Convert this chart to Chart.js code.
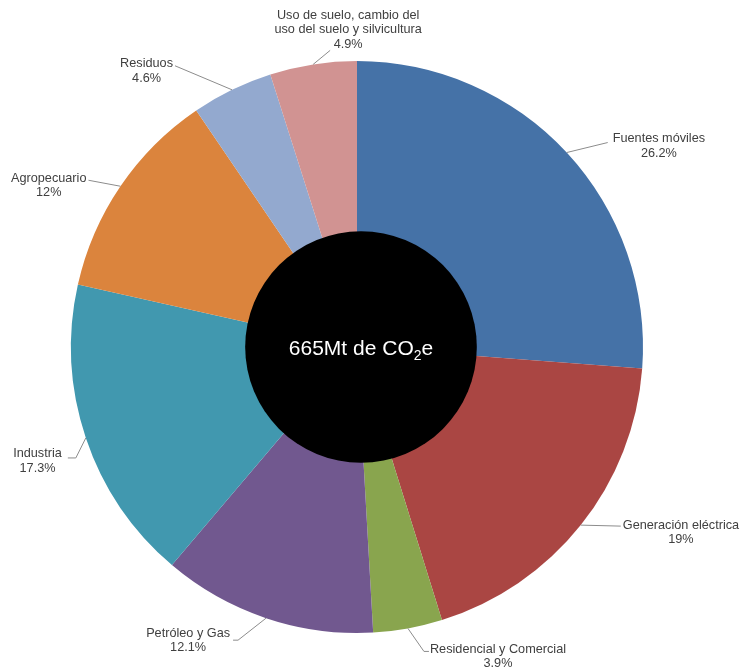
<!DOCTYPE html>
<html>
<head>
<meta charset="utf-8">
<script src="https://cdn.jsdelivr.net/npm/chart.js@4"></script>
<style>
  html, body { margin: 0; padding: 0; background: #fff; }
</style>
</head>
<body>
<canvas id="chart-body" width="743" height="672"></canvas>
<script>
const categories = [
    'Fuentes móviles',
    'Generación eléctrica',
    'Residencial y Comercial',
    'Petróleo y Gas',
    'Industria',
    'Agropecuario',
    'Residuos',
    'Uso de suelo, cambio del uso del suelo y silvicultura'
];
const shares = [26.2, 19, 3.9, 12.1, 17.3, 12, 4.6, 4.9];
const sliceColors = ['#4572A7', '#AA4643', '#89A54E', '#71588F', '#4198AF', '#DB843D', '#93A9CF', '#D19392'];
const centerMain = '665Mt de CO';
const centerSub = '2';
const centerTail = 'e';

// leader line + label placement, relative to the middle of each slice's outer edge
const labelLayout = [
    { path: [[41, -10]], align: 'left', dx: 46, dy: -14 },
    { path: [[40, 1]], align: 'left', dx: 42, dy: 0 },
    { path: [[16, 23], [21, 23]], align: 'left', dx: 22, dy: 21 },
    { path: [[-28, 22], [-33, 22]], align: 'right', dx: -36, dy: 15 },
    { path: [[-10, 20], [-18, 20]], align: 'right', dx: -24, dy: 16 },
    { path: [[-32, -6]], align: 'right', dx: -34, dy: -8 },
    { path: [[-57, -24]], align: 'right', dx: -59, dy: -26 },
    { path: [[17, -14]], align: 'center', dx: 35, dy: -49 }
];

const labelFont = '12.7px "Liberation Sans", Arial, sans-serif';
const lineHeight = 14.5;
// black disc sits on top of the pie, a little right of its centre
const discRatio = 0.405;
const discShift = 4;

function wrapText(ctx, text, maxWidth) {
    const words = text.split(' ');
    const lines = [];
    let current = '';
    words.forEach(w => {
        const test = current ? current + ' ' + w : w;
        if (current && ctx.measureText(test).width > maxWidth) {
            lines.push(current);
            current = w;
        } else {
            current = test;
        }
    });
    if (current) lines.push(current);
    return lines;
}

const centerPlugin = {
    id: 'centerDisc',
    afterDatasetsDraw(chart) {
        const arc = chart.getDatasetMeta(0).data[0];
        const p = arc.getProps(['x', 'y', 'outerRadius']);
        const ctx = chart.ctx;
        const dx = p.x + discShift;
        ctx.save();
        ctx.beginPath();
        ctx.arc(dx, p.y, p.outerRadius * discRatio, 0, Math.PI * 2);
        ctx.fillStyle = '#000';
        ctx.fill();

        const mainFont = '21px "Liberation Sans", Arial, sans-serif';
        const subFont = '14px "Liberation Sans", Arial, sans-serif';
        ctx.font = mainFont;
        const w1 = ctx.measureText(centerMain).width;
        const w3 = ctx.measureText(centerTail).width;
        ctx.font = subFont;
        const w2 = ctx.measureText(centerSub).width;
        let x = dx - (w1 + w2 + w3) / 2;
        const base = p.y + 8;
        ctx.fillStyle = '#fff';
        ctx.textBaseline = 'alphabetic';
        ctx.textAlign = 'left';
        ctx.font = mainFont;
        ctx.fillText(centerMain, x, base);
        x += w1;
        ctx.font = subFont;
        ctx.fillText(centerSub, x, base + 5);
        x += w2;
        ctx.font = mainFont;
        ctx.fillText(centerTail, x, base);
        ctx.restore();
    }
};

const labelPlugin = {
    id: 'sliceLabels',
    afterDraw(chart) {
        const ctx = chart.ctx;
        const values = chart.data.datasets[0].data;
        ctx.save();
        ctx.font = labelFont;
        chart.getDatasetMeta(0).data.forEach((arc, i) => {
            const p = arc.getProps(['x', 'y', 'startAngle', 'endAngle', 'outerRadius']);
            const mid = (p.startAngle + p.endAngle) / 2;
            const sx = p.x + Math.cos(mid) * p.outerRadius;
            const sy = p.y + Math.sin(mid) * p.outerRadius;
            const lay = labelLayout[i];

            ctx.beginPath();
            ctx.moveTo(sx, sy);
            lay.path.forEach(([dx, dy]) => ctx.lineTo(sx + dx, sy + dy));
            ctx.strokeStyle = '#8c8c8c';
            ctx.lineWidth = 1;
            ctx.stroke();

            const lines = wrapText(ctx, chart.data.labels[i], 163).concat(values[i] + '%');
            const blockW = Math.max(...lines.map(l => ctx.measureText(l).width));
            let cx = sx + lay.dx;
            if (lay.align === 'left') cx += blockW / 2;
            if (lay.align === 'right') cx -= blockW / 2;
            ctx.textAlign = 'center';
            ctx.textBaseline = 'middle';
            ctx.fillStyle = '#404040';
            lines.forEach((l, k) => ctx.fillText(l, cx, sy + lay.dy + k * lineHeight));
        });
        ctx.restore();
    }
};

const ctx = document.getElementById('chart-body').getContext('2d');
window.chart = new Chart(ctx, {
    type: 'pie',
    data: {
        labels: categories,
        datasets: [
            {
                data: shares,
                backgroundColor: sliceColors,
                borderWidth: 0
            }
        ]
    },
    options: {
        responsive: false,
        devicePixelRatio: 1,
        layout: {
            padding: { left: 71, right: 100, top: 61, bottom: 39 }
        },
        plugins: {
            legend: { display: false },
            tooltip: { enabled: false }
        },
        animation: {
            duration: 0
        }
    },
    plugins: [centerPlugin, labelPlugin]
});
</script>
</body>
</html>
